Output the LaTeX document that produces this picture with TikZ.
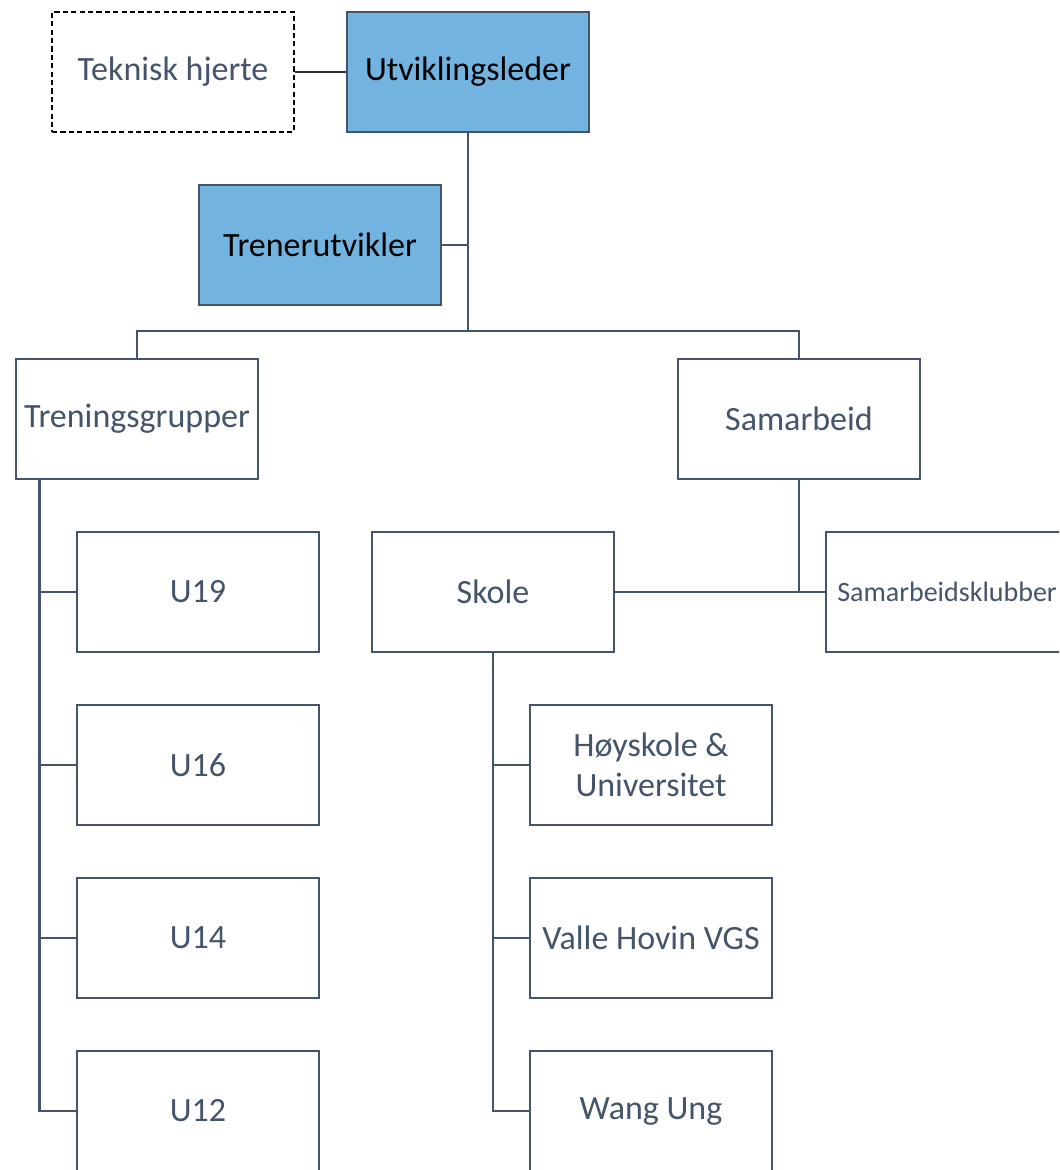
\documentclass[tikz,border=0pt]{standalone}
\usepackage{fontspec}
\setmainfont{Carlito}
\usetikzlibrary{positioning}
\definecolor{linje}{HTML}{44546A}
\definecolor{blaa}{HTML}{72B3DF}

\begin{document}
\begin{tikzpicture}[x=0.5pt, y=-0.5pt,
  boks/.style={draw=linje, line width=1.4pt, fill=white, text=linje,
    minimum width=121pt, minimum height=60pt, inner sep=0pt, align=center,
    font=\fontsize{17}{20}\selectfont},
  leder/.style={boks, fill=blaa, text=black},
  strek/.style={draw=linje, line width=1.4pt}]

  \path[use as bounding box, clip] (0,0) rectangle (1059,1170);

  % toppen
  \node[boks, draw=black, line width=1.1pt, dash pattern=on 2.6pt off 1.6pt] (tekn) at (173,72) {Teknisk hjerte};
  \node[leder] (utv) at (468,72) {Utviklingsleder};
  \node[leder] (tren) at (320,245) {Trenerutvikler};

  \node[boks] (grupper) at (137,419) {Treningsgrupper};
  \node[boks] (samarb) at (799,419) {Samarbeid};

  % treningsgrupper
  \node[boks] (u19) at (198,592) {U19};
  \node[boks] (u16) at (198,765) {U16};
  \node[boks] (u14) at (198,938) {U14};
  \node[boks] (u12) at (198,1111) {U12};

  % samarbeid
  \node[boks] (skole) at (493,592) {Skole};
  \node[boks, font=\fontsize{14}{16}\selectfont] (klubber) at (947,592) {Samarbeidsklubber};
  \node[boks] (hoy) at (651,765) {Høyskole \&\\Universitet};
  \node[boks] (valle) at (651,938) {Valle Hovin VGS};
  \node[boks] (wang) at (651,1111) {Wang Ung};

  \coordinate (fork) at (468,331);
  \coordinate (gstamme) at ([xshift=12.5pt]grupper.south west);

  \draw[draw=linje!60!black, line width=0.7pt] (tekn.east) -- (utv.west);
  \draw[strek] (utv.south) -- (fork);
  \draw[strek] (tren.east) -- (tren.east -| fork);
  \draw[strek] (grupper.north) |- (fork) -| (samarb.north);

  \draw[strek] (gstamme) |- (u12.west);
  \foreach \n in {u19,u16,u14}
    \draw[strek] (\n.west) -- (\n.west -| gstamme);

  \draw[strek] (samarb.south) -- (samarb.south |- klubber.west);
  \draw[strek] (skole.east) -- (klubber.west);

  \draw[strek] (skole.south) |- (wang.west);
  \foreach \n in {hoy,valle}
    \draw[strek] (\n.west) -- (\n.west -| skole.south);
\end{tikzpicture}
\end{document}
